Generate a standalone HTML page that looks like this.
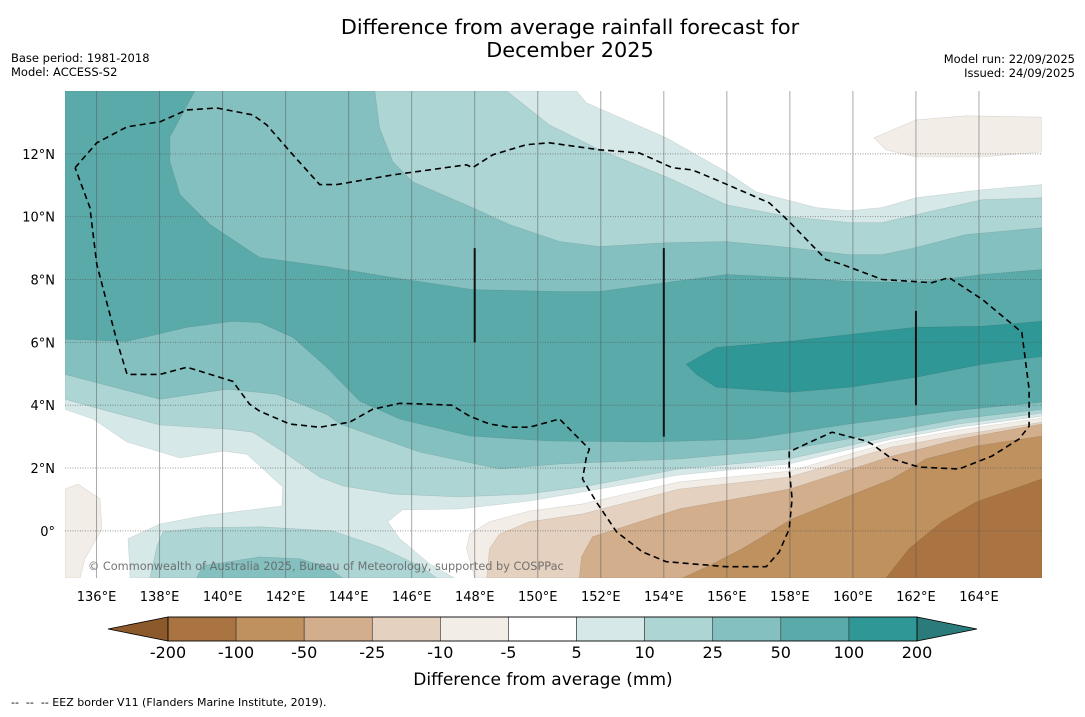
<!DOCTYPE html>
<html><head><meta charset="utf-8">
<style>
html,body{margin:0;padding:0;background:#fff;}
body{width:1085px;height:713px;overflow:hidden;font-family:"DejaVu Sans","Liberation Sans",sans-serif;}
svg text{font-family:"DejaVu Sans","Liberation Sans",sans-serif;}
</style></head>
<body>
<svg id="chart" width="1085" height="713" xmlns="http://www.w3.org/2000/svg">
<text x="570" y="34" font-size="20.8" text-anchor="middle" fill="#000">Difference from average rainfall forecast for</text>
<text x="570" y="57" font-size="20.8" text-anchor="middle" fill="#000">December 2025</text>
<text x="11" y="62" font-size="11.5">Base period: 1981-2018</text>
<text x="11" y="76" font-size="11.5">Model: ACCESS-S2</text>
<text x="1075" y="63" font-size="11.5" text-anchor="end">Model run: 22/09/2025</text>
<text x="1075" y="77" font-size="11.5" text-anchor="end">Issued: 24/09/2025</text>
<g id="map"></g>
<g id="cbar"></g>
<text x="543" y="685" font-size="17" text-anchor="middle">Difference from average (mm)</text>
<text x="11" y="706" font-size="11" style="white-space:pre" xml:space="preserve">--  --  -- EEZ border V11 (Flanders Marine Institute, 2019).</text>
</svg>
<script>
const lonTicks=[136,138,140,142,144,146,148,150,152,154,156,158,160,162,164];
const latTicks=[0,2,4,6,8,10,12];
const cbLevels=["-200","-100","-50","-25","-10","-5","5","10","25","50","100","200"];
const cbColors=["#a97441","#be915f","#d2ae8c","#e5d1bf","#f2ede7","#ffffff","#d6e9e8","#acd5d4","#84c0bf","#5aaaaa","#2f9795"];
const c5=[[135,14],[151.23,14],[151.55,13.62],[154.08,12.51],[155.98,11.43],[156.93,10.79],[158.84,10.29],[159.88,10.19],[160.93,10.29],[162,10.6],[164.1,10.86],[166,11.02],[166,3.65],[163.37,3.3],[161.24,2.92],[157.98,2.13],[154.49,1.78],[151.42,1.24],[149.74,0.95],[147.52,0.7],[145.71,0.67],[145.24,0.29],[145.62,-0.25],[146.57,-1.05],[147.36,-1.5],[137.06,-1.5],[137.06,-1.3],[137.0,-0.25],[138.01,0.22],[139.37,0.48],[141.88,0.79],[141.91,1.4],[140.77,2.44],[140.01,2.54],[138.65,2.32],[136.97,2.83],[135.89,3.56],[135,3.87]];
const c10N=[[135,14],[149.01,14],[150.37,12.92],[151.96,12.13],[154.08,11.27],[155.98,10.38],[157.98,10.0],[159.88,9.81],[160.93,9.81],[162,10.06],[164.1,10.54],[166,10.6],[166,3.75],[163.37,3.4],[161.24,3.02],[157.98,2.29],[154.49,1.97],[151.42,1.4],[149.64,1.17],[147.52,1.08],[145.4,1.17],[143.81,1.43],[143.08,1.71],[142.04,2.44],[140.96,3.14],[140.13,3.24],[138.01,3.37],[135.89,3.94],[135,4.19]];
const c10S=[[137.69,-1.5],[137.92,-0.48],[138.11,-0.03],[139.37,0.1],[141.18,0.13],[143.49,0],[144.98,-0.51],[146.25,-1.11],[146.79,-1.5]];
const c25N=[[135,14],[144.83,14],[144.98,12.83],[145.4,11.75],[146.03,11.11],[147.93,10.29],[149.1,9.75],[150.69,9.21],[151.96,9.05],[154.08,9.17],[155.98,9.21],[157.98,9.02],[159.88,8.79],[160.93,8.79],[162,9.02],[163.59,9.43],[166,9.65],[166,3.87],[163.37,3.56],[161.24,3.17],[157.98,2.6],[154.49,2.29],[150.69,2.13],[148.79,1.97],[146.25,2.51],[143.72,3.4],[143.3,3.71],[141.72,4.35],[140.13,4.51],[138.01,4.19],[135,4.98]];
const c25S=[[139.18,-1.5],[139.37,-1.11],[141.18,-0.83],[142.45,-0.89],[143.3,-1.14],[143.81,-1.5]];
const c50=[[135,14],[139.12,14],[138.33,12.54],[138.33,11.75],[138.65,10.7],[139.6,9.75],[141.18,8.7],[143.3,8.41],[145.4,8.06],[147.93,7.68],[150.69,7.62],[151.96,7.62],[155.98,8.16],[157.98,8.06],[159.88,7.94],[162,7.9],[164.1,8.16],[166,8.32],[166,4.1],[163.05,3.81],[159.88,3.4],[156.71,2.92],[153.54,2.83],[150.37,2.86],[147.84,3.02],[145.62,3.56],[144.35,4.13],[143.3,5.21],[142.23,6.16],[141.18,6.63],[140.32,6.67],[138.87,6.48],[136.97,6.03],[135,6.1]];
const c100=[[154.71,5.3],[155.67,5.84],[157.98,6.03],[159.88,6.25],[162,6.48],[164.1,6.51],[166,6.67],[166,5.55],[164.1,5.3],[162,4.89],[159.88,4.57],[157.98,4.41],[155.67,4.57],[155.03,4.98]];
const m5NE=[[160.67,12.51],[162,13.08],[163.59,13.21],[166,13.17],[166,12.06],[164.1,11.9],[162,11.9],[161.05,12.13]];
const m5W=[[135,1.33],[135.41,1.49],[136.11,1.02],[136.17,0.06],[135.63,-0.89],[135.48,-1.5],[135,-1.5]];
const m5SE=[[148.0,-1.5],[147.74,-0.57],[147.84,-0.1],[148.47,0.29],[149.74,0.63],[151.42,0.86],[154.49,1.56],[157.98,1.9],[161.24,2.83],[163.37,3.21],[166,3.59],[166,-1.5]];
const m10=[[148.38,-1.5],[148.47,-0.57],[148.79,-0.1],[149.74,0.29],[151.42,0.54],[154.49,1.33],[157.98,1.71],[161.24,2.67],[163.37,3.05],[166,3.46],[166,-1.5]];
const m25=[[151.32,-1.5],[151.39,-0.83],[151.74,-0.19],[154.49,0.7],[157.98,1.33],[161.24,2.38],[163.37,2.92],[166,3.4],[166,-1.5]];
const m50=[[154.59,-1.5],[155.44,-1.11],[156.49,-0.57],[158.07,0.38],[159.66,1.02],[161.24,1.65],[162.32,2.29],[163.91,2.7],[166,3.02],[166,-1.5]];
const m100=[[161.05,-1.5],[161.78,-0.57],[162.83,0.29],[163.91,0.92],[166,1.65],[166,-1.5]];
const eez=[[135.32,11.56],[136.01,12.35],[136.97,12.86],[138.01,13.02],[138.87,13.4],[139.82,13.46],[140.96,13.24],[141.4,12.92],[142.23,11.97],[143.08,11.02],[143.62,11.02],[145.4,11.33],[147.74,11.65],[147.93,11.56],[148.57,11.97],[149.64,12.29],[150.37,12.35],[151.96,12.13],[153.22,12.03],[154.27,11.56],[154.9,11.49],[155.67,11.17],[157.35,10.44],[157.98,9.84],[159.15,8.63],[159.66,8.48],[160.93,8.0],[162.51,7.9],[163.05,8.06],[164.1,7.37],[165.36,6.32],[165.59,4.51],[165.59,3.33],[165.27,2.92],[164.41,2.38],[163.37,1.97],[162.1,2.03],[161.24,2.29],[160.61,2.76],[160.42,2.86],[159.34,3.14],[158.3,2.67],[157.98,2.51],[157.98,1.97],[158.07,1.02],[157.98,0.06],[157.66,-0.67],[157.25,-1.14],[155.98,-1.14],[154.08,-0.98],[153.32,-0.67],[152.5,-0.03],[151.86,0.92],[151.42,1.65],[151.55,2.38],[151.64,2.6],[150.69,3.56],[149.74,3.3],[149.1,3.3],[148.47,3.4],[147.84,3.65],[147.27,4.0],[146.57,4.03],[145.62,4.06],[144.76,3.87],[144.03,3.46],[143.08,3.3],[142.13,3.4],[141.18,3.81],[140.86,4.03],[140.32,4.76],[138.87,5.21],[138.01,4.98],[136.97,4.98],[136.65,6.03],[136.01,8.48],[135.79,10.29],[135.32,11.56]];
const boundLons=[148,154,162];
const boundLat0=[6,3,4];
const boundLat1=[9,9,7];

const X0=65,X1=1042,Y0=91,Y1=578,LON0=135,LON1=166,LAT0=-1.5,LAT1=14;
function xs(lon){return X0+(lon-LON0)/(LON1-LON0)*(X1-X0);}
function ys(lat){return Y0+(LAT1-lat)/(LAT1-LAT0)*(Y1-Y0);}
const NS="http://www.w3.org/2000/svg";
const map=document.getElementById('map');
function mk(tag,parent){const e=document.createElementNS(NS,tag);parent.appendChild(e);return e;}
function pts(a){return a.map(p=>xs(p[0]).toFixed(1)+','+ys(p[1]).toFixed(1)).join(' ');}
const clip=mk('clipPath',map);clip.setAttribute('id','mclip');
const cr=mk('rect',clip);cr.setAttribute('x',X0);cr.setAttribute('y',Y0);cr.setAttribute('width',X1-X0);cr.setAttribute('height',Y1-Y0);
const g=mk('g',map);g.setAttribute('clip-path','url(#mclip)');
const bg=mk('rect',g);bg.setAttribute('x',X0);bg.setAttribute('y',Y0);bg.setAttribute('width',X1-X0);bg.setAttribute('height',Y1-Y0);bg.setAttribute('fill','#fff');


const layers=[[c5,6,'contour-5-10'],[c10N,7,'contour-10-25-north'],[c10S,7,'contour-10-25-south'],[c25N,8,'contour-25-50-north'],[c25S,8,'contour-25-50-south'],[c50,9,'contour-50-100'],[c100,10,'contour-100-200'],[m5NE,4,'contour-neg10-neg5-ne'],[m5W,4,'contour-neg10-neg5-west'],[m5SE,4,'contour-neg10-neg5-se'],[m10,3,'contour-neg25-neg10'],[m25,2,'contour-neg50-neg25'],[m50,1,'contour-neg100-neg50'],[m100,0,'contour-neg200-neg100']];
layers.forEach(L=>{const p=mk('polygon',g);p.setAttribute('points',pts(L[0]));p.setAttribute('fill',cbColors[L[1]]);p.setAttribute('stroke','rgba(0,0,0,0.12)');p.setAttribute('stroke-width','0.6');

});
lonTicks.forEach(t=>{const l=mk('line',g);l.setAttribute('x1',xs(t));l.setAttribute('x2',xs(t));l.setAttribute('y1',Y0);l.setAttribute('y2',Y1);l.setAttribute('stroke','#555');l.setAttribute('stroke-opacity','0.5');l.setAttribute('stroke-width','1');


const tx=mk('text',document.getElementById('chart'));tx.setAttribute('x',xs(t));tx.setAttribute('y',601);tx.setAttribute('font-size','13');tx.setAttribute('text-anchor','middle');tx.textContent=t+'°E';

});
latTicks.forEach(t=>{const l=mk('line',g);l.setAttribute('x1',X0);l.setAttribute('x2',X1);l.setAttribute('y1',ys(t));l.setAttribute('y2',ys(t));l.setAttribute('stroke','#555');l.setAttribute('stroke-opacity','0.6');l.setAttribute('stroke-width','1');l.setAttribute('stroke-dasharray','1,1.5');


const tx=mk('text',document.getElementById('chart'));tx.setAttribute('x',55);tx.setAttribute('y',ys(t)+5);tx.setAttribute('font-size','13');tx.setAttribute('text-anchor','end');tx.textContent=t===0?'0°':t+'°N';

});
const ez=mk('polyline',g);ez.setAttribute('points',pts(eez));ez.setAttribute('fill','none');ez.setAttribute('stroke','#000');ez.setAttribute('stroke-width','1.6');ez.setAttribute('stroke-dasharray','6,4');


boundLons.forEach((lo,i)=>{const l=mk('line',g);l.setAttribute('x1',xs(lo));l.setAttribute('x2',xs(lo));l.setAttribute('y1',ys(boundLat1[i]));l.setAttribute('y2',ys(boundLat0[i]));l.setAttribute('stroke','#111');l.setAttribute('stroke-width','2');

});
const cp=mk('text',g);cp.setAttribute('x',88);cp.setAttribute('y',570);cp.setAttribute('font-size','11.3');cp.setAttribute('fill','#666');cp.setAttribute('fill-opacity','0.9');cp.textContent='© Commonwealth of Australia 2025, Bureau of Meteorology, supported by COSPPac';


// colorbar
const cb=document.getElementById('cbar');
const CB0=168,CB1=917,CBY=617,CBH=24,n=cbColors.length,bw=(CB1-CB0)/n;
const lt=mk('polygon',cb);lt.setAttribute('points',`108,${CBY+CBH/2} ${CB0},${CBY} ${CB0},${CBY+CBH}`);lt.setAttribute('fill','#8c5a2a');lt.setAttribute('stroke','#000');lt.setAttribute('stroke-width','0.8');


const rt=mk('polygon',cb);rt.setAttribute('points',`977,${CBY+CBH/2} ${CB1},${CBY} ${CB1},${CBY+CBH}`);rt.setAttribute('fill','#2a7b79');rt.setAttribute('stroke','#000');rt.setAttribute('stroke-width','0.8');


cbColors.forEach((c,i)=>{const r=mk('rect',cb);r.setAttribute('x',CB0+i*bw);r.setAttribute('y',CBY);r.setAttribute('width',bw);r.setAttribute('height',CBH);r.setAttribute('fill',c);r.setAttribute('stroke','#333');r.setAttribute('stroke-width','0.6');

});
const fr=mk('rect',cb);fr.setAttribute('x',CB0);fr.setAttribute('y',CBY);fr.setAttribute('width',CB1-CB0);fr.setAttribute('height',CBH);fr.setAttribute('fill','none');fr.setAttribute('stroke','#000');fr.setAttribute('stroke-width','0.8');


cbLevels.forEach((s,i)=>{const t=mk('text',cb);t.setAttribute('x',CB0+i*bw);t.setAttribute('y',658);t.setAttribute('font-size','16');t.setAttribute('text-anchor','middle');t.textContent=s;

});
</script>
</body></html>
